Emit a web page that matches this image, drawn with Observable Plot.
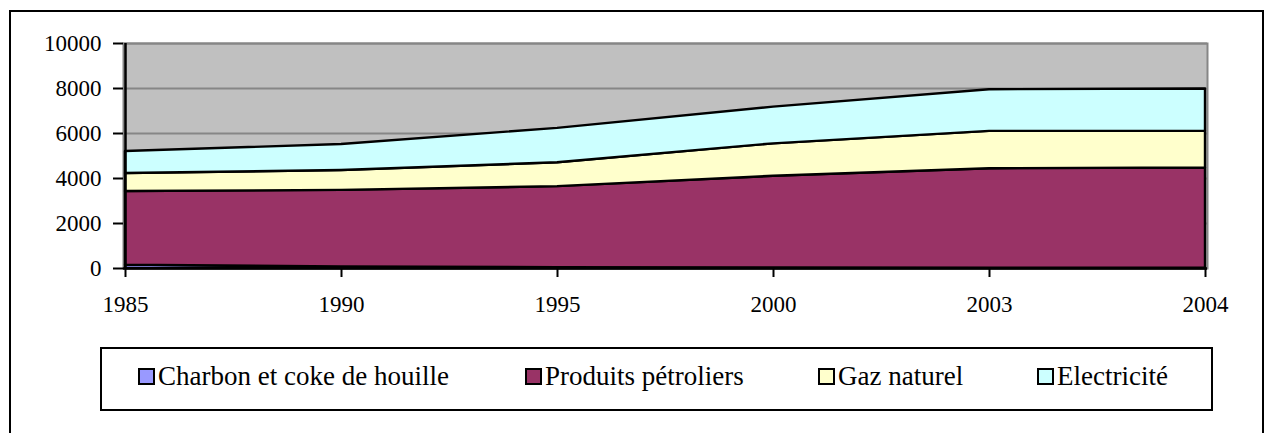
<!DOCTYPE html>
<html>
<head>
<meta charset="utf-8">
<script src="https://cdn.jsdelivr.net/npm/d3@7"></script>
<script src="https://cdn.jsdelivr.net/npm/@observablehq/plot@0.6"></script>
<style>
  html, body { margin: 0; padding: 0; background: #fff; overflow: hidden; }
  #wrap { position: relative; width: 1267px; height: 433px; font-family: "Liberation Serif", "Times New Roman", serif; }
  #frame { position: absolute; left: 9px; top: 10px; width: 1255px; height: 460px; border: 2px solid #000; box-sizing: border-box; }
  #chart { position: absolute; left: 0; top: 0; }
  #legend { position: absolute; left: 100px; top: 347px; width: 1113px; height: 64px; border: 2px solid #000; box-sizing: border-box; background: #fff; }
  .sw { position: absolute; width: 17px; height: 17px; border: 2px solid #000; box-sizing: border-box; }
  .lt { position: absolute; font-size: 27px; line-height: 1; white-space: nowrap; color: #000; font-family: "Liberation Serif", "Times New Roman", serif; }
</style>
</head>
<body>
<div id="wrap">
  <div id="frame"></div>
  <div id="chart"></div>
  <div id="legend"></div>
</div>
<script>
// ---- data ----
const years = ["1985", "1990", "1995", "2000", "2003", "2004"];
const charbon = [150, 70, 40, 20, 15, 15];
const produits = [3270, 3400, 3600, 4080, 4420, 4450];
const gaz = [800, 885, 1060, 1440, 1660, 1640];
const electricite = [980, 1155, 1530, 1630, 1850, 1870];
const seriesNames = ["Charbon et coke de houille", "Produits pétroliers", "Gaz naturel", "Electricité"];
const seriesColors = ["#9999FF", "#993366", "#FFFFCC", "#CCFFFF"];
const yTicks = [0, 2000, 4000, 6000, 8000, 10000];

// ---- layout ----
const legendSwatchX = [38, 425, 718, 937]; // relative to legend box

const seriesValues = [charbon, produits, gaz, electricite];
const rows = [];
seriesNames.forEach((name, si) => {
  years.forEach((yr, i) => rows.push({year: yr, series: name, value: seriesValues[si][i]}));
});

const serif = "'Liberation Serif', 'Times New Roman', serif";
const chart = Plot.plot({
  width: 1267,
  height: 330,
  marginLeft: 123,
  marginRight: 60,
  marginTop: 43,
  marginBottom: 62,
  style: {fontFamily: serif, background: "transparent", color: "#000"},
  x: {type: "point", domain: years, padding: 0},
  y: {domain: [0, 10000]},
  color: {domain: seriesNames, range: seriesColors},
  marks: [
    Plot.frame({fill: "#C0C0C0", stroke: "#868686", strokeWidth: 2}),
    Plot.gridY(yTicks, {stroke: "#868686", strokeOpacity: 1, strokeWidth: 2}),
    Plot.areaY(rows, {x: "year", y: "value", z: "series", fill: "series", stroke: "#000", strokeWidth: 2.4, order: null}),
    Plot.ruleY([0], {stroke: "#000", strokeWidth: 2.5}),
    Plot.ruleX([years[0]], {stroke: "#000", strokeWidth: 2.5}),
    Plot.axisY({ticks: yTicks, tickSize: 10, tickPadding: 12, fontSize: 23, fontFamily: serif, tickFormat: d => String(d), stroke: "#000", strokeWidth: 2, label: null}),
    Plot.axisX({tickSize: 9, tickPadding: 18, fontSize: 23, fontFamily: serif, stroke: "#000", strokeWidth: 2, label: null})
  ]
});
document.getElementById("chart").appendChild(chart);

const legend = document.getElementById("legend");
seriesNames.forEach((name, i) => {
  const sw = document.createElement("div");
  sw.className = "sw";
  sw.style.left = (legendSwatchX[i] - 2) + "px";
  sw.style.top = (368 - 347 - 2) + "px";
  sw.style.background = seriesColors[i];
  legend.appendChild(sw);
  const t = document.createElement("div");
  t.className = "lt";
  t.textContent = name;
  t.style.left = (legendSwatchX[i] - 2 + 20) + "px";
  t.style.top = (363 - 347 - 2) + "px";
  legend.appendChild(t);
});
</script>
</body>
</html>
